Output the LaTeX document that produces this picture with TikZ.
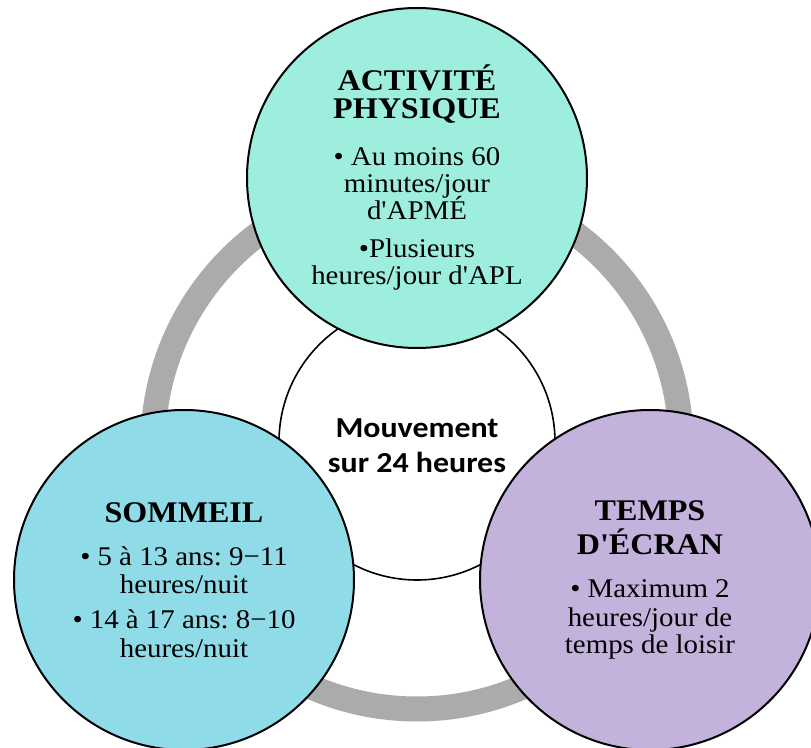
\documentclass[tikz,border=0pt]{standalone}
\usepackage{fontspec}
\newfontfamily\serifx{Liberation Serif}[FakeStretch=1.07,Ligatures=TeXOff]
\newfontfamily\calx{Carlito}[FakeStretch=1.1]
% keep baselines evenly spaced even with accented capitals
\lineskiplimit=-20pt
\normallineskiplimit=-20pt
\frenchspacing
\definecolor{ringgray}{HTML}{ABABAB}
\definecolor{actfill}{HTML}{9DEEDE}
\definecolor{sleepfill}{HTML}{8FDCE8}
\definecolor{screenfill}{HTML}{C3B2DB}
\newcommand\headline[1]{{\bfseries\fontsize{15}{15}\selectfont #1}}
\begin{document}
\begin{tikzpicture}[x=0.5pt,y=-0.5pt,
  bubble/.style={circle,draw=black,line width=1pt,minimum size=170pt,inner sep=0pt},
  hub/.style={circle,draw=black,line width=0.8pt,fill=white,minimum size=138pt,inner sep=0pt},
  bodytext/.style={align=center,text=black,font=\serifx\frenchspacing\fontsize{13.5}{13.5}\selectfont},
  hubtext/.style={align=center,text=black,font=\calx\bfseries\fontsize{14.5}{17.5}\selectfont}]
\useasboundingbox (0,0) rectangle (811,748);
\clip (0,0) rectangle (811,748);

% grey ring joining the three themes
\coordinate (ringc) at (417,445);
\draw[ringgray,line width=12.5pt] (ringc) circle[radius=132pt];

% centre
\node[hub] (core) at (417,442) {};
\node[hubtext] (coretext) at ([yshift=-2pt]core.center) {Mouvement\\sur 24 heures};

% physical activity
\node[bubble,fill=actfill] (act) at (417,178) {};
\node[bodytext] (acttext) at (act.center) {%
  \headline{ACTIVITÉ}\\[0.5pt]
  \headline{PHYSIQUE}\\[10pt]
  • Au moins 60\\
  minutes/jour\\
  d'APMÉ\\[5.5pt]
  •Plusieurs\\
  heures/jour d'APL};

% sleep
\node[bubble,fill=sleepfill] (sleep) at (184,580) {};
\node[bodytext] (sleeptext) at (sleep.center) {%
  \headline{SOMMEIL}\\[8pt]
  • 5 à 13 ans: 9−11\\[0.5pt]
  heures/nuit\\[4pt]
  • 14 à 17 ans: 8−10\\[1pt]
  heures/nuit};

% screen time
\node[bubble,fill=screenfill] (screen) at (650,580) {};
\node[bodytext] (screentext) at (screen.center) {%
  \headline{TEMPS}\\[3.5pt]
  \headline{D'ÉCRAN}\\[8pt]
  • Maximum 2\\[1pt]
  heures/jour de\\
  temps de loisir};
\end{tikzpicture}
\end{document}
